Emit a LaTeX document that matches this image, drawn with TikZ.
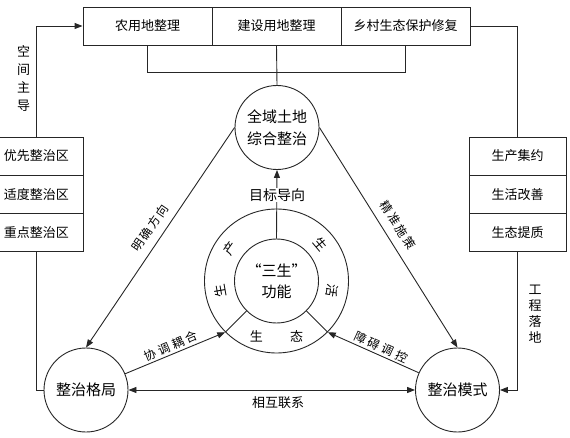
\documentclass[tikz,border=0pt]{standalone}
\usepackage{fontspec}
\setmainfont{Noto Sans CJK SC}
\usetikzlibrary{arrows.meta}
\begin{document}
\begin{tikzpicture}[x=1pt,y=-1pt,
  line/.style={draw=black!85, line width=0.9pt},
  arr/.style={line, -{Triangle[length=8pt,width=6pt]}},
  darr/.style={line, {Triangle[length=8pt,width=6pt]}-{Triangle[length=8pt,width=6pt]}},
  box/.style={draw=black!85, line width=0.9pt, rectangle, inner sep=0pt, minimum height=38pt, font=\fontsize{13}{15}\selectfont},
  tbox/.style={box, minimum width=129pt},
  lbox/.style={box, minimum width=93pt},
  rbox/.style={box, minimum width=97pt},
  circ/.style={draw=black!85, line width=0.9pt, circle, inner sep=0pt, minimum size=84pt, align=center, font=\fontsize{15}{22}\selectfont},
  lbl/.style={inner sep=1pt, font=\fontsize{12}{14}\selectfont},
  vlbl/.style={inner sep=1pt, align=center},
  ringch/.style={inner sep=0pt, font=\fontsize{13}{14}\selectfont}
]
\useasboundingbox (0,0) rectangle (570,438);

% top boxes
\node[tbox] (b1) at (147.5,26) {农用地整理};
\node[tbox] (b2) at (276.5,26) {建设用地整理};
\node[tbox] (b3) at (405.5,26) {乡村生态保护修复};

% left boxes
\node[lbox] (l1) at (36.5,156) {优先整治区};
\node[lbox] (l2) at (36.5,194.2) {适度整治区};
\node[lbox] (l3) at (36.5,232.5) {重点整治区};

% right boxes
\node[rbox] (r1) at (517.5,156) {生产集约};
\node[rbox] (r2) at (517.5,194.2) {生活改善};
\node[rbox] (r3) at (517.5,232.5) {生态提质};

% circles
\node[circ] (top) at (277,127.5) {全域土地\\综合整治};
\node[circ] (geju) at (86,390) {整治格局};
\node[circ] (moshi) at (457.5,390) {整治模式};

% ring
\node[draw=black!85, line width=0.9pt, circle, inner sep=0pt, minimum size=144pt] (ring) at (276.5,281) {};
\node[draw=black!85, line width=0.9pt, circle, inner sep=0pt, minimum size=84pt, align=center, font=\fontsize{15}{21}\selectfont] (inner) at (276.5,281) {“三生”\\功能};
\draw[line] (inner.225) -- (ring.225);
\draw[line] (inner.315) -- (ring.315);

\node[ringch, rotate=55] (c1) at (229.8,248.3) {产};
\node[ringch, rotate=100] (c2) at (220.4,290.9) {生};
\node[ringch, rotate=-50] (c3) at (320.2,244.4) {生};
\node[ringch, rotate=-100] (c4) at (332.6,290.9) {活};
\node[ringch] (c5) at (256.3,336.4) {生};
\node[ringch] (c6) at (296.7,336.4) {态};

% connectors
\draw[line] (b1.south) -- ++(0,27) -| (b3.south);
\draw[line] (b2.south) -- (top.north);
\draw[arr] (l1.north) |- (b1.west);
\draw[line] (l3.south) |- (geju.west);
\draw[line] (b3.east) -| (r1.north);
\draw[arr] (r3.south) |- (moshi.east);
\draw[arr] (top.west) -- (geju.north);
\draw[arr] (top.east) -- (moshi.north);
\draw[arr] (inner.north) -- (top.south);
\draw[arr] (geju) -- (ring.225);
\draw[arr] (moshi) -- (ring.315);
\draw[darr] (geju.east) -- (moshi.west);

% labels
\node[vlbl, font=\fontsize{13}{18}\selectfont] (kj) at (23.5,78.5) {空\\间\\主\\导};
\node[vlbl, font=\fontsize{13}{16}\selectfont] (gc) at (535,314) {工\\程\\落\\地};
\node[lbl, fill=white, font=\fontsize{14}{16}\selectfont] (mb) at (277,195) {目标导向};
\node[lbl, font=\fontsize{13}{15}\selectfont] (xh) at (278,403) {相互联系};
\node[lbl, rotate=55.8] (mq) at (150,228) {明\hspace{2pt}确\hspace{2pt}方\hspace{2pt}向};
\node[lbl, rotate=-57.6] (jz) at (398,225) {精\hspace{2pt}准\hspace{2pt}施\hspace{2pt}策};
\node[lbl, rotate=22.6] (xt) at (171,346) {协\hspace{3pt}调\hspace{3pt}耦\hspace{3pt}合};
\node[lbl, rotate=-24.6] (za) at (381,347) {障\hspace{3pt}碍\hspace{3pt}调\hspace{3pt}控};
\end{tikzpicture}
\end{document}
